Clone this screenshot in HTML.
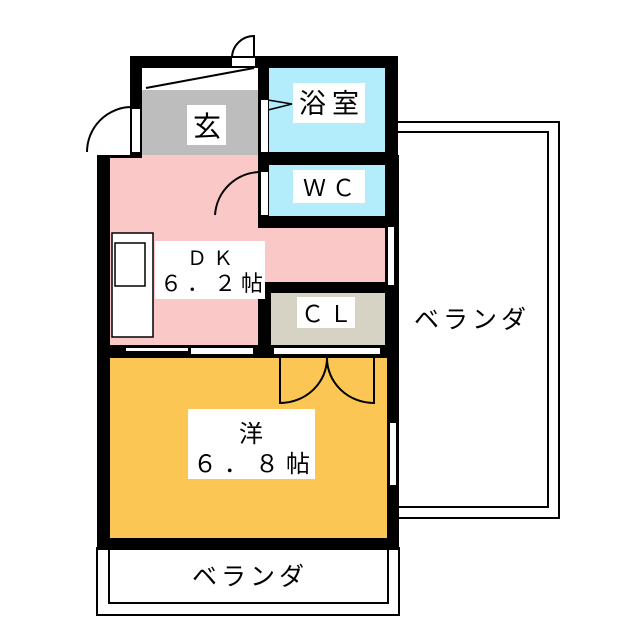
<!DOCTYPE html>
<html><head><meta charset="utf-8"><style>
html,body{margin:0;padding:0;background:#fff;}
svg{display:block}
text{font-family:"Liberation Sans","Noto Sans CJK JP",sans-serif;fill:#000}
</style></head><body>
<svg width="640" height="640" viewBox="0 0 640 640" xmlns="http://www.w3.org/2000/svg">
<rect x="397" y="122" width="162" height="396" fill="none" stroke="#000" stroke-width="2"/>
<rect x="397" y="132" width="151" height="375" fill="#fff" stroke="#000" stroke-width="2"/>
<rect x="97" y="548" width="302" height="67" fill="none" stroke="#000" stroke-width="2"/>
<rect x="109" y="548" width="279" height="55" fill="none" stroke="#000" stroke-width="2"/>
<rect x="130" y="56" width="268" height="110" fill="#000"/>
<rect x="97" y="155" width="302" height="395" fill="#000"/>
<rect x="142" y="68" width="116" height="22" fill="#fff"/>
<line x1="146" y1="88" x2="254" y2="68" stroke="#000" stroke-width="2"/>
<rect x="142" y="90" width="116" height="67" fill="#bdbdbd"/>
<rect x="269" y="68" width="116" height="84" fill="#b3ecfb"/>
<rect x="269" y="165" width="116" height="51" fill="#b3ecfb"/>
<rect x="110" y="158" width="148" height="187" fill="#fbc8c8"/>
<rect x="258" y="228" width="127" height="54" fill="#fbc8c8"/>
<rect x="142" y="155" width="116" height="5" fill="#fbc8c8"/>
<rect x="271" y="293" width="114" height="52" fill="#d6d3c5"/>
<rect x="110" y="358" width="277" height="180" fill="#fbc653"/>
<rect x="232" y="58" width="23" height="8" fill="#fff"/>
<rect x="132" y="109" width="8" height="43" fill="#fff"/>
<rect x="261" y="100" width="7" height="52" fill="#fff"/>
<rect x="261" y="172" width="7" height="43" fill="#fff"/>
<rect x="388" y="227" width="6" height="58" fill="#fff"/>
<rect x="390" y="423" width="6" height="62" fill="#fff"/>
<rect x="126" y="348" width="62" height="3" fill="#fff"/>
<rect x="191" y="348" width="62" height="6" fill="#fff"/>
<rect x="274" y="348" width="106" height="6" fill="#fff"/>
<path d="M232 58 A22 22 0 0 1 254 36 L254 58" fill="none" stroke="#000" stroke-width="2"/>
<path d="M87 152 A45 45 0 0 1 132 107" fill="none" stroke="#000" stroke-width="2"/>
<path d="M268 100 L292 104 L268 110" fill="none" stroke="#000" stroke-width="1.5"/>
<path d="M215 215 A46 46 0 0 1 261 172" fill="none" stroke="#000" stroke-width="2"/>
<path d="M280 358 L280 403 A47 45 0 0 0 327 358 A47 45 0 0 0 374 403 L374 358" fill="none" stroke="#000" stroke-width="2"/>
<rect x="112" y="233" width="41" height="104" fill="#fff" stroke="#000" stroke-width="1.5"/>
<rect x="115" y="243" width="30" height="43" fill="#fff" stroke="#000" stroke-width="1.5"/>
<rect x="187" y="105" width="39" height="40" fill="#fff"/>
<text x="207" y="136" font-size="28" text-anchor="middle">玄</text>
<rect x="293" y="83" width="72" height="40" fill="#fff"/>
<text x="332" y="113" font-size="27" letter-spacing="6" text-anchor="middle">浴室</text>
<rect x="293" y="170" width="72" height="33" fill="#fff"/>
<text x="332" y="196" font-size="23" letter-spacing="6" text-anchor="middle">ＷＣ</text>
<rect x="155" y="241" width="110" height="58" fill="#fff"/>
<text x="213" y="265" font-size="20" letter-spacing="6" text-anchor="middle">ＤＫ</text>
<text x="214" y="291" font-size="22" letter-spacing="5" text-anchor="middle">６．２帖</text>
<rect x="297" y="297" width="58" height="31" fill="#fff"/>
<text x="329" y="322" font-size="23" letter-spacing="5" text-anchor="middle">ＣＬ</text>
<rect x="188" y="409" width="127" height="70" fill="#fff"/>
<text x="251" y="442" font-size="24" text-anchor="middle">洋</text>
<text x="255" y="472" font-size="24" letter-spacing="7" text-anchor="middle">６．８帖</text>
<text x="472" y="328" font-size="25" letter-spacing="4" text-anchor="middle">ベランダ</text>
<text x="250" y="585" font-size="25" letter-spacing="4" text-anchor="middle">ベランダ</text>
</svg>
</body></html>
